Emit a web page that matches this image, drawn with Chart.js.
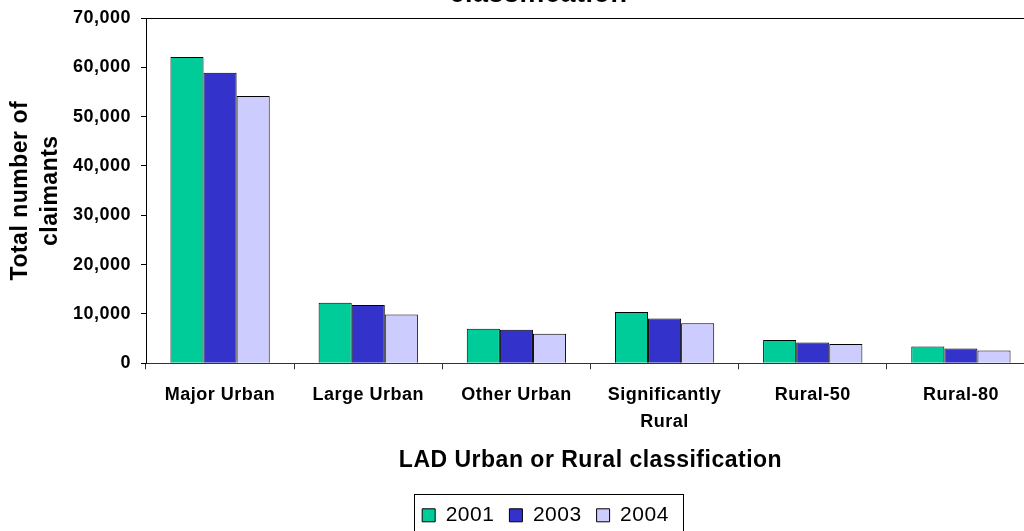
<!DOCTYPE html>
<html>
<head>
<meta charset="utf-8">
<script src="https://cdn.jsdelivr.net/npm/chart.js@4.4.1/dist/chart.umd.min.js"></script>
<style>
  html, body { margin: 0; padding: 0; background: #fff; overflow: hidden; width: 1024px; height: 531px; }
  #wrap { position: absolute; left: 0; top: -22px; width: 1036px; height: 560px; }
</style>
</head>
<body>
<div id="wrap"><canvas id="c" width="1036" height="560"></canvas></div>
<script>
const categories = ['Major Urban', 'Large Urban', 'Other Urban', ['Significantly', 'Rural'], 'Rural-50', 'Rural-80'];
const seriesNames = ['2001', '2003', '2004'];
const values2001 = [62100, 12300, 7000, 10400, 4700, 3400];
const values2003 = [58900, 11800, 6800, 9100, 4200, 3000];
const values2004 = [54200, 9900, 6000, 8100, 3900, 2600];
const yTicks = [0, 10000, 20000, 30000, 40000, 50000, 60000, 70000];
const titleText = 'classification';
const xTitle = 'LAD Urban or Rural classification';
const yTitle = ['Total number of', 'claimants'];

const FONT = "'Liberation Sans', Arial, Helvetica, sans-serif";
const LS = '0.5px';

const spacingPlugin = {
  id: 'spacing',
  beforeInit(c) { c.ctx.letterSpacing = LS; },
  beforeLayout(c) { c.ctx.letterSpacing = LS; },
  beforeDraw(c) { c.ctx.letterSpacing = LS; }
};

const LEGEND_SHIFT = 28;
const TITLE_SHIFT = 21;
const boxShift = {
  id: 'boxShift',
  afterLayout(c) {
    const l = c.legend;
    if (l) { l.left += LEGEND_SHIFT; l.right += LEGEND_SHIFT; }
    const t = c.titleBlock;
    if (t) { t.left += TITLE_SHIFT; t.right += TITLE_SHIFT; }
  }
};

const legendBox = {
  id: 'legendBox',
  afterDraw(c) {
    const l = c.legend;
    if (!l || !l.legendHitBoxes || !l.legendHitBoxes.length) return;
    const hb = l.legendHitBoxes;
    const minX = Math.min(...hb.map(h => h.left));
    const maxX = Math.max(...hb.map(h => h.left + h.width));
    const midY = hb[0].top + hb[0].height / 2;
    const ctx = c.ctx;
    ctx.save();
    ctx.strokeStyle = '#000';
    ctx.lineWidth = 1;
    const x0 = Math.round(minX - 8) + 0.5;
    const x1 = Math.round(maxX + 14) + 0.5;
    const y0 = Math.round(midY - 21.5) + 0.5;
    ctx.strokeRect(x0, y0, x1 - x0, 80);
    ctx.restore();
  }
};

new Chart(document.getElementById('c'), {
  type: 'bar',
  data: {
    labels: categories,
    datasets: [
      { label: seriesNames[0], data: values2001, backgroundColor: '#00CC99', borderColor: '#000', borderWidth: 1 },
      { label: seriesNames[1], data: values2003, backgroundColor: '#3333CC', borderColor: '#000', borderWidth: 1 },
      { label: seriesNames[2], data: values2004, backgroundColor: '#CCCCFF', borderColor: '#000', borderWidth: 1 }
    ]
  },
  plugins: [spacingPlugin, boxShift, legendBox],
  options: {
    responsive: false,
    animation: false,
    devicePixelRatio: 1,
    datasets: { bar: { barPercentage: 1, categoryPercentage: 0.67 } },
    layout: { padding: { left: 0, right: 1, top: 0, bottom: 2.2 } },
    plugins: {
      title: {
        display: true,
        text: titleText,
        color: '#000',
        font: { family: FONT, size: 27, weight: 'bold', lineHeight: 1.2 },
        padding: { top: 0, bottom: 7.6 }
      },
      legend: {
        display: true,
        position: 'bottom',
        labels: {
          color: '#000',
          font: { family: FONT, size: 21, weight: 'normal' },
          boxWidth: 13,
          boxHeight: 13,
          padding: 15
        }
      },
      tooltip: { enabled: false }
    },
    scales: {
      x: {
        offset: true,
        border: { display: true, color: '#333', width: 1 },
        grid: { display: true, drawOnChartArea: false, drawTicks: true, tickLength: 6, color: '#333', offset: true },
        ticks: {
          color: '#000',
          autoSkip: false,
          maxRotation: 0,
          minRotation: 0,
          padding: 12.6,
          font: { family: FONT, size: 18, weight: 'bold', lineHeight: 1.48 }
        },
        title: {
          display: true,
          text: xTitle,
          color: '#000',
          font: { family: FONT, size: 23, weight: 'bold', lineHeight: 1.2 },
          padding: { top: 0, bottom: 15.4 }
        },
        afterFit(s) { s.height = 126.5; }
      },
      y: {
        min: 0,
        max: 70000,
        border: { display: true, color: '#000', width: 1 },
        grid: {
          display: true,
          drawOnChartArea: true,
          drawTicks: true,
          tickLength: 5,
          tickColor: '#000',
          color: (ctx) => (ctx.tick && ctx.tick.value === yTicks[yTicks.length - 1]) ? '#000' : 'rgba(0,0,0,0)'
        },
        afterBuildTicks(s) { s.ticks = yTicks.map(v => ({ value: v })); },
        ticks: {
          color: '#000',
          padding: 10,
          font: { family: FONT, size: 18, weight: 'bold' },
          callback: (v) => Number(v).toLocaleString('en-US')
        },
        title: {
          display: true,
          text: yTitle,
          color: '#000',
          font: { family: FONT, size: 23, weight: 'bold', lineHeight: 1.3 },
          padding: { top: 6.1, bottom: 0 }
        },
        afterFit(s) { s.width = 146; }
      }
    }
  }
});
</script>
</body>
</html>
